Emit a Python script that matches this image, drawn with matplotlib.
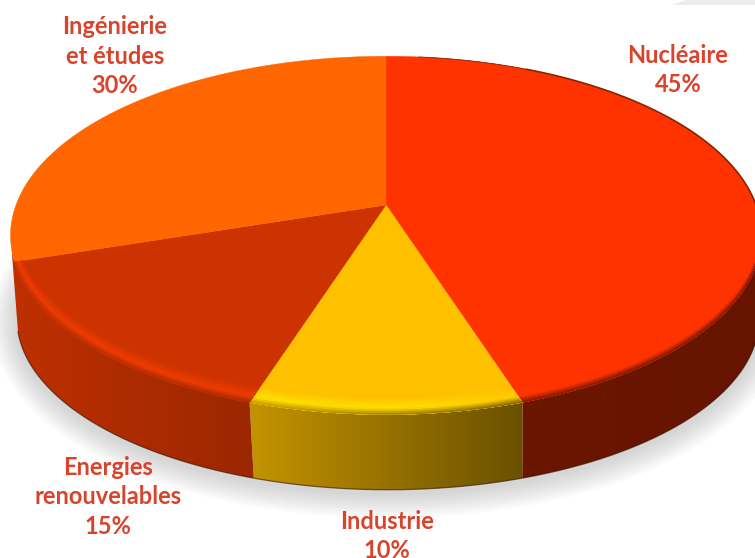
import matplotlib
matplotlib.use('Agg')
import matplotlib.pyplot as plt
from matplotlib.colors import to_rgb
from matplotlib.patches import Polygon
import numpy as np

# Data
categories = ['Nucléaire', 'Industrie', 'Energies\nrenouvelables', 'Ingénierie\net études']
values = [45, 10, 15, 30]
colors = ['#ff3300', '#ffc000', '#cc3300', '#ff6600']
label_x = [678, 387, 108, 115]
label_y = [70, 536, 497, 56]

plt.rcParams['font.family'] = ['Lato', 'DejaVu Sans']


def project(theta, r=1.0, y0=205.0, a=370.0, b=174.0, k=0.17, cx=386.0):
    # perspective view of the pie disc, theta clockwise from 12 o'clock
    xx = r * np.sin(theta)
    yy = r * np.cos(theta)
    w = 1 + k * yy
    return cx + a * xx / w, y0 - b * yy / w


def rim_bottom(theta):
    return project(theta, y0=290.0, a=366.0, b=166.6, k=0.166, cx=388.0)


xs = np.arange(0, 756)
wall_shade = np.interp(xs, [15, 255, 520, 755], [0.93, 0.76, 0.42, 0.40])
bevel_light = np.interp(xs, [15, 420, 570], [0.18, 0.16, 0.0])


def gradient(rgb_row, pts, z):
    # horizontal colour ramp cut to the shape of pts
    im = ax.imshow(rgb_row[np.newaxis, :, :], extent=(0, 755, 558, 0), aspect='auto',
                   interpolation='bilinear', zorder=z)
    im.set_clip_path(Polygon(pts, closed=True, transform=ax.transData))


fig, ax = plt.subplots(figsize=(7.55, 5.58), dpi=100)
fig.subplots_adjust(0, 0, 1, 1)
ax.axis('off')

# Thin grey band at the top right of the source slide
ax.fill([672, 686, 755, 755], [5, 0, 0, 5], color='#ececec', lw=0, zorder=0)

# Soft shadow under the disc
t_all = np.radians(np.linspace(0, 360, 361))
sx, sy = rim_bottom(t_all)
for lw in np.arange(36, 0, -4):
    ax.plot(sx, sy + 3, color='#808080', alpha=0.04, lw=lw, zorder=1, solid_joinstyle='round')

edges = np.radians(np.concatenate([[0], np.cumsum(values)]) * 3.6)

# The back slice has no visible wall, the one before it runs on to the silhouette
wall_from = [np.radians(100), edges[1], edges[2]]
wall_to = [edges[1], edges[2], np.radians(256)]
bevel_from = [np.radians(92), edges[1], edges[2]]
bevel_to = [edges[1], edges[2], edges[3]]

for i in range(3):
    base = np.array(to_rgb(colors[i]))
    t = np.linspace(wall_from[i], wall_to[i], 200)
    x1, y1 = project(t)
    x2, y2 = rim_bottom(t)
    pts = np.column_stack([np.r_[x1, x2[::-1]], np.r_[y1, y2[::-1]]])
    gradient(base[np.newaxis, :] * wall_shade[:, np.newaxis], pts, 2)

# Flat top
for i, col in enumerate(colors):
    t = np.linspace(edges[i], edges[i + 1], 300)
    x1, y1 = project(t)
    ax.fill(np.r_[386, x1], np.r_[205, y1], color=col, lw=0.3, zorder=3)

# Bevel band along the front rim, painted from its inner edge outwards
levels = np.linspace(0, 1, 12)[:-1]
for i in range(3):
    base = np.array(to_rgb(colors[i]))
    t = np.linspace(bevel_from[i], bevel_to[i], 200)
    x1, y1 = project(t)
    for m in levels:
        light = np.clip(base[np.newaxis, :] * (1 + bevel_light[:, np.newaxis]), 0, 1)
        wall = base[np.newaxis, :] * wall_shade[:, np.newaxis]
        if m < 0.6:
            row = base + (light - base) * m / 0.6
        else:
            row = light + (wall - light) * (m - 0.6) / 0.4
        # inner edge stays on the slice's radial sides
        x0, y0 = project(t, r=1 - 0.075 * (1 - m) * np.abs(np.cos(t)))
        pts = np.column_stack([np.r_[x0, x1[::-1]], np.r_[y0, y1[::-1]]])
        gradient(row, pts, 4)

# Dark edge along the back right of the disc and under the wall
t_back = np.radians(np.linspace(6, 26, 40))
bx, by = project(t_back)
ax.plot(bx, by, color='#8a2400', lw=0.6, zorder=5)
t_back = np.radians(np.linspace(26, 100, 120))
bx, by = project(t_back)
ax.plot(bx, by, color='#8a2400', lw=1.2, zorder=5)
t_low = np.radians(np.linspace(100, 256, 200))
bx, by = rim_bottom(t_low)
ax.plot(bx, by, color='#301000', lw=0.9, alpha=0.6, zorder=5)

# Labels
for i, cat in enumerate(categories):
    ax.text(label_x[i], label_y[i], f'{cat}\n{values[i]}%', color='#d8432c',
            fontsize=17, fontweight='bold', ha='center', va='center',
            linespacing=1.35, zorder=6)

ax.set_xlim(0, 755)
ax.set_ylim(558, 0)
fig.savefig('out.png', dpi=100)
